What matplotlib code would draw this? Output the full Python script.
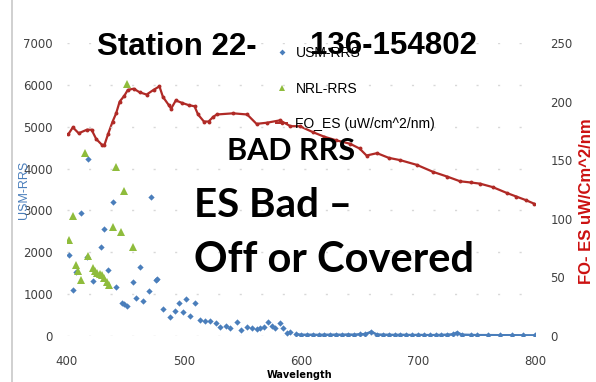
import matplotlib
matplotlib.use("Agg")
import matplotlib.pyplot as plt
from matplotlib.lines import Line2D

# USM-RRS (left axis)
usm_wl = [402, 405, 408, 412, 417, 418, 422, 429, 432, 435, 439, 442, 447, 449, 451,
          456, 459, 462, 465, 470, 472, 476, 477, 482, 488, 492, 496, 499, 502, 505,
          509, 514, 518, 522, 527, 531, 536, 539, 545, 549, 554, 558, 562, 565, 568,
          572, 575, 578, 582, 585, 588, 591, 596,
          600, 605, 610, 615, 620, 625, 630, 635, 640, 645, 650, 655, 660, 665, 670,
          675, 680, 685, 690, 695, 700, 705, 710, 715, 720, 725, 730, 733, 738, 745,
          750, 760, 770, 780, 790, 800]
usm_rrs = [1935, 1099, 1537, 2931, 1880, 4229, 1314, 2134, 2549, 1577, 3194, 1178, 796, 760, 717,
           1283, 915, 1641, 843, 1075, 3328, 1330, 1370, 645, 446, 604, 780, 581, 884, 478,
           780, 382, 370, 366, 300, 223, 239, 183, 342, 143, 223, 200, 159, 183, 223,
           342, 250, 183, 303, 200, 80, 104, 40,
           30, 28, 30, 25, 30, 28, 32, 28, 35, 30, 40, 45, 100, 35, 30,
           28, 25, 28, 25, 22, 25, 22, 20, 22, 25, 30, 40, 80, 30, 25,
           20, 20, 18, 18, 16, 15]

# NRL-RRS (left axis)
nrl_wl = [402, 405, 408, 409, 412, 415, 418, 422, 424, 426, 428, 430, 432, 434, 436,
          439, 442, 446, 449, 451, 456]
nrl_rrs = [2293, 2867, 1696, 1560, 1338, 4379, 1911, 1620, 1560, 1513, 1480, 1457, 1378, 1300, 1218,
           2597, 4030, 2492, 3471, 6020, 2134]

# FO_ES irradiance (right axis)
es_wl = [401, 405, 410, 417, 421, 425, 430, 432, 435, 439, 442, 445, 449, 452, 457,
         462, 468, 474, 479, 482, 487, 489, 493, 498, 504, 509, 512, 517, 521, 525,
         528, 542, 554, 562, 571, 582, 591, 599, 610, 620, 630, 642, 650, 656, 665,
         675, 685, 699, 713, 725, 736, 745, 753, 764, 776, 784, 792, 799]
es_val = [172, 178, 173, 176, 176, 168, 163, 163, 172, 183, 190, 200, 205, 210, 211,
          208, 206, 210, 213, 204, 197, 194, 201, 199, 197, 196, 189, 183, 183, 187,
          189, 190, 189, 181, 182, 184, 179, 179, 174, 170, 167, 164, 160, 154, 156,
          152, 150, 146, 140, 136, 132, 131, 130, 127, 122, 119, 116, 113]

left_ticks = [0, 1000, 2000, 3000, 4000, 5000, 6000, 7000]
right_ticks = [0, 50, 100, 150, 200, 250]
x_ticks = [400, 500, 600, 700, 800]

BLUE = "#4a7ebb"
GREEN = "#8fbc3c"
RED = "#b02a26"
TICK = "#404040"
SANS = "Liberation Sans"

W, H = 596, 382
fig = plt.figure(figsize=(W / 100, H / 100), dpi=100)
fig.patch.set_facecolor("white")

def fx(px):
    return px / W

def fy(py):
    return 1 - py / H

ax = fig.add_axes([fx(67), fy(336), fx(535) - fx(67), fy(43) - fy(336)])
ax2 = ax.twinx()
ax.set_zorder(ax2.get_zorder() + 1)
ax.patch.set_visible(False)

# irradiance on the secondary axis
ax2.plot(es_wl, es_val, color=RED, lw=1.6, marker="o", ms=2.8, mew=0)
ax2.set_ylim(0, 250)
ax2.set_yticks(right_ticks)

# reflectance series on the primary axis
tail = [i for i, w in enumerate(usm_wl) if w >= 596]
ax.plot([usm_wl[i] for i in tail], [usm_rrs[i] for i in tail], color=BLUE, lw=1.8)
ax.plot(usm_wl, usm_rrs, ls="none", marker="D", ms=3.2, color=BLUE, mew=0)
ax.plot(nrl_wl, nrl_rrs, ls="none", marker="^", ms=5.5, color=GREEN, mew=0)

ax.set_xlim(400, 800)
ax.set_ylim(0, 7000)
ax.set_xticks(x_ticks)
ax.set_yticks(left_ticks)

ax.grid(axis="y", color="#d8d8d8", lw=1.0, linestyle=(0, (1.5, 14)))
ax.set_axisbelow(True)

for a in (ax, ax2):
    for s in a.spines.values():
        s.set_visible(False)
    a.tick_params(length=0, labelsize=8.5, labelcolor=TICK)
ax.tick_params(axis="y", pad=10)
ax.tick_params(axis="x", pad=14)
ax2.tick_params(axis="y", pad=11)

fig.text(fx(300), fy(375), "Wavelength", fontsize=7, fontweight="bold",
         ha="center", va="center")
ax.set_ylabel("USM-RRS", color=BLUE, fontsize=9, family=SANS)
ax.yaxis.set_label_coords(-0.08, 0.5)
ax2.set_ylabel("FO- ES uW/Cm^2/nm", color="#cc1111", fontsize=12,
               fontweight="bold", family=SANS)
ax2.yaxis.set_label_coords(1.095, 0.46)

handles = [
    Line2D([], [], ls="none", marker="D", ms=3, color=BLUE, mew=0),
    Line2D([], [], ls="none", marker="^", ms=5, color=GREEN, mew=0),
    Line2D([], [], color=RED, lw=1.4, marker="o", ms=2.6, mew=0),
]
labels = ["USM-RRS", "NRL-RRS", "FO_ES (uW/cm^2/nm)"]
leg = ax.legend(handles, labels, loc="upper left",
                bbox_to_anchor=(fx(276), fy(46)), bbox_transform=fig.transFigure,
                frameon=False, prop={"family": SANS, "size": 10},
                handlelength=0.8, handletextpad=0.6, labelspacing=1.55,
                borderaxespad=0, borderpad=0)

# frame edge of the chart area
fig.add_artist(Line2D([fx(11.5), fx(11.5)], [0, 1], color="#c8c8c8", lw=1.2))

big = dict(fontweight="bold", color="black", va="baseline", ha="left")
fig.text(fx(97), fy(55), "Station 22-", fontsize=22.5, family=SANS, **big)
fig.text(fx(310), fy(54), "136-154802", fontsize=22.5, family=SANS, **big)
fig.text(fx(227), fy(160), "BAD RRS", fontsize=22, family="Lato", **big)
fig.text(fx(194), fy(217), "ES Bad \u2013", fontsize=29, family="Lato", **big)
fig.text(fx(194), fy(272), "Off or Covered", fontsize=30, family="Lato", **big)

fig.savefig("out.png", dpi=100)
